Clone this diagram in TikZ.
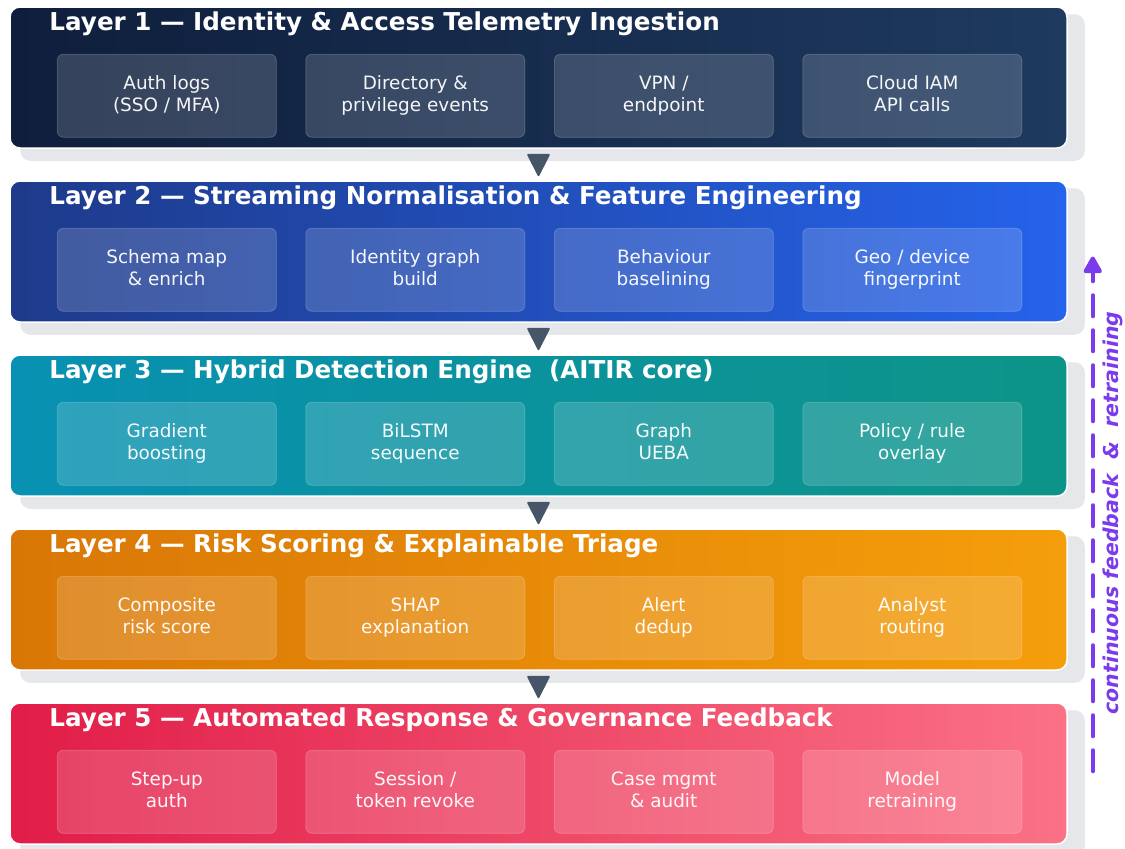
\documentclass[tikz,border=0pt]{standalone}
\usepackage{fontspec}
\setmainfont{DejaVu Sans}
\usetikzlibrary{calc,arrows.meta,backgrounds}

\definecolor{navyL}{HTML}{0F1E3C}
\definecolor{navyR}{HTML}{1E3A5F}
\definecolor{blueL}{HTML}{1E3A8A}
\definecolor{blueR}{HTML}{2563EB}
\definecolor{tealL}{HTML}{0891B2}
\definecolor{tealR}{HTML}{0D9488}
\definecolor{amberL}{HTML}{D97706}
\definecolor{amberR}{HTML}{F59E0B}
\definecolor{roseL}{HTML}{E11D48}
\definecolor{roseR}{HTML}{FB7185}
\definecolor{shadowgray}{HTML}{E5E7EB}
\definecolor{slatearrow}{HTML}{475569}
\definecolor{loopviolet}{HTML}{7C3AED}

% two centred lines with a fixed baseline spacing
\newcommand{\twolines}[2]{\strut #1\\\strut #2}

\tikzset{
  layerbox/.style={draw=white, line width=1.5pt, rounded corners=10pt,
    minimum width=1057pt, minimum height=141pt, inner sep=0pt},
  layertitle/.style={anchor=base west, text=white, inner sep=0pt,
    font=\fontsize{24.6}{28}\selectfont\bfseries},
  stagebox/.style={fill=white, fill opacity=0.16, draw=white, draw opacity=0.16,
    line width=1pt, rounded corners=6pt, minimum width=219pt, minimum height=83pt,
    inner sep=0pt, align=center, text=white, text opacity=0.95,
    font=\fontsize{18.4}{22}\selectfont},
  layershadow/.style={fill=shadowgray, rounded corners=10pt},
  flowtri/.style={fill=slatearrow, rounded corners=2pt},
  loopline/.style={draw=loopviolet, line width=4pt, line cap=round,
    dash pattern=on 21pt off 14pt,
    -{Triangle[width=20pt,length=19pt,round]}},
  looplabel/.style={text=loopviolet, rotate=90, inner sep=0pt,
    font=\fontsize{20.5}{22}\selectfont\bfseries\itshape}
}

\begin{document}
\begin{tikzpicture}[x=1pt,y=-1pt]
\useasboundingbox (0,0) rectangle (1125,849);

% five stacked layers
\foreach \n/\top/\cl/\cr in {1/7/navyL/navyR, 2/181/blueL/blueR, 3/355/tealL/tealR,
                             4/529/amberL/amberR, 5/703/roseL/roseR} {
  \node[layerbox, left color=\cl, right color=\cr] (L\n) at (538.5,\top+70.5) {};
}

% drop shadows behind each layer
\begin{scope}[on background layer]
  \foreach \n in {1,...,5} {
    \fill[layershadow] ($(L\n.north west)+(11,8)$) rectangle ($(L\n.south east)+(17,12)$);
  }
\end{scope}

% layer titles
\node[layertitle] (T1) at ($(L1.north west)+(40,24)$) {Layer 1 — Identity \& Access Telemetry Ingestion};
\node[layertitle] (T2) at ($(L2.north west)+(40,24)$) {Layer 2 — Streaming Normalisation \& Feature Engineering};
\node[layertitle] (T3) at ($(L3.north west)+(40,24)$) {Layer 3 — Hybrid Detection Engine \ (AITIR core)};
\node[layertitle] (T4) at ($(L4.north west)+(40,24)$) {Layer 4 — Risk Scoring \& Explainable Triage};
\node[layertitle] (T5) at ($(L5.north west)+(40,24)$) {Layer 5 — Automated Response \& Governance Feedback};

% stage boxes inside each layer
\foreach \n/\a/\b/\c/\d in {
  1/{\twolines{Auth logs}{(SSO / MFA)}}/{\twolines{Directory \&}{privilege events}}/{\twolines{VPN /}{endpoint}}/{\twolines{Cloud IAM}{API calls}},
  2/{\twolines{Schema map}{\& enrich}}/{\twolines{Identity graph}{build}}/{\twolines{Behaviour}{baselining}}/{\twolines{Geo / device}{fingerprint}},
  3/{\twolines{Gradient}{boosting}}/{\twolines{BiLSTM}{sequence}}/{\twolines{Graph}{UEBA}}/{\twolines{Policy / rule}{overlay}},
  4/{\twolines{Composite}{risk score}}/{\twolines{SHAP}{explanation}}/{\twolines{Alert}{dedup}}/{\twolines{Analyst}{routing}},
  5/{\twolines{Step-up}{auth}}/{\twolines{Session /}{token revoke}}/{\twolines{Case mgmt}{\& audit}}/{\twolines{Model}{retraining}}} {
  \node[stagebox] (B\n a) at ($(L\n.north west)+(157.5,89.5)$) {\a};
  \node[stagebox] (B\n b) at ($(L\n.north west)+(406,89.5)$) {\b};
  \node[stagebox] (B\n c) at ($(L\n.north west)+(654.5,89.5)$) {\c};
  \node[stagebox] (B\n d) at ($(L\n.north west)+(903,89.5)$) {\d};
}

% downward flow markers between layers
\foreach \a/\b in {1/2, 2/3, 3/4, 4/5} {
  \fill[flowtri] ($(L\a.south)+(-12,5)$) -- ($(L\a.south)+(12,5)$) -- ($(L\b.north)+(0,-3)$) -- cycle;
}

% feedback loop back up the stack
\coordinate (fbBottom) at ($(L5.north east)+(25,69)$);
\coordinate (fbTop) at ($(L2.east)+(25,5)$);
\draw[loopline] (fbBottom) -- (fbTop);
\node[looplabel] (fbText) at (1113,513) {continuous feedback \ \& \ retraining};

\end{tikzpicture}
\end{document}
